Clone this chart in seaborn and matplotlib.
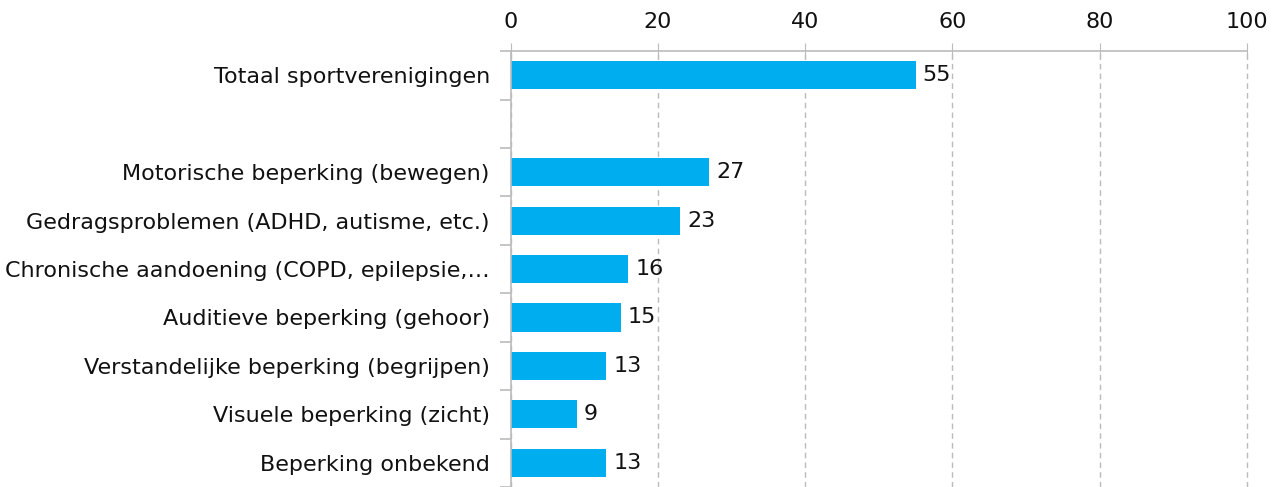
import pandas as pd
import matplotlib.pyplot as plt
import seaborn as sns
from matplotlib.ticker import FixedLocator

#%%
categories = ['Totaal sportverenigingen',
              'Motorische beperking (bewegen)',
              'Gedragsproblemen (ADHD, autisme, etc.)',
              'Chronische aandoening (COPD, epilepsie,…',
              'Auditieve beperking (gehoor)',
              'Verstandelijke beperking (begrijpen)',
              'Visuele beperking (zicht)',
              'Beperking onbekend']
values = [55, 27, 23, 16, 15, 13, 9, 13]
x_ticks = [0, 20, 40, 60, 80, 100]

# empty row between total and the rest
order = [categories[0], ' '] + categories[1:]

df = pd.DataFrame({'Categorie': categories, 'Waarde': values})

#%%
sns.set_style('white')
plt.rcParams['font.family'] = ['DejaVu Sans']

fig = plt.figure(figsize=(12.83, 4.87), dpi=100)
ax = fig.add_axes([0.398, 0.0, 0.574, 0.895])

sns.barplot(data=df, y='Categorie', x='Waarde', order=order, color='#00ADEF',
            saturation=1, width=0.58, linewidth=0, ax=ax)

ax.bar_label(ax.containers[0], fmt='%d', padding=5, fontsize=16, color='#111111')

ax.set_xlim(0, 100)
ax.set_ylim(len(order) - 0.5, -0.5)
ax.set_xticks(x_ticks)
ax.xaxis.tick_top()
ax.tick_params(axis='x', top=True, labelsize=16, length=12, direction='inout',
               color='#BBBBBB', pad=8, labelcolor='#111111')
ax.tick_params(axis='y', which='major', left=False, labelsize=16, length=0, pad=15,
               labelcolor='#111111')
ax.yaxis.set_minor_locator(FixedLocator([i - 0.5 for i in range(len(order) + 1)]))
ax.tick_params(axis='y', which='minor', left=True, length=8, color='#BBBBBB', width=1.2)
ax.set_xlabel('')
ax.set_ylabel('')

ax.grid(axis='x', color='#BBBBBB', linestyle=(0, (4, 3)), linewidth=1)
for line in ax.get_xgridlines():
    line.set_clip_on(False)
ax.set_axisbelow(True)
for side in ['right', 'bottom']:
    ax.spines[side].set_visible(False)
for side in ['top', 'left']:
    ax.spines[side].set_color('#BBBBBB')
    ax.spines[side].set_linewidth(1.2)

plt.savefig('out.png', dpi=100)
